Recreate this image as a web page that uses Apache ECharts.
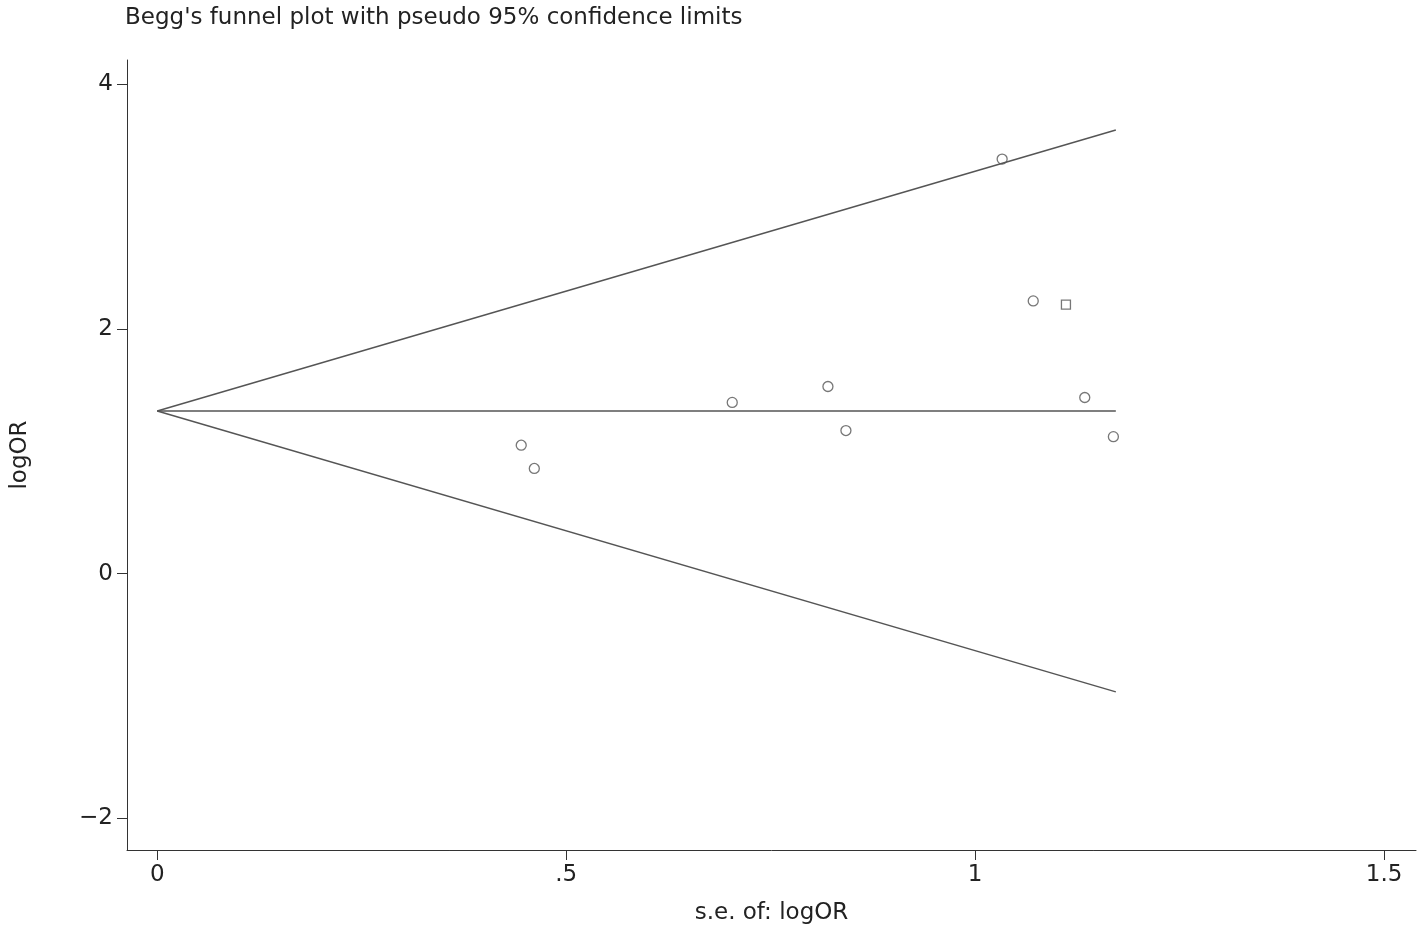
<!DOCTYPE html>
<html><head><meta charset="utf-8">
<script src="https://cdn.jsdelivr.net/npm/echarts@6/dist/echarts.min.js"></script>
<style>html,body{margin:0;background:#fff}#c{width:1418px;height:933px}</style>
</head><body><div id="c"></div>
<script>
// studies: standard error vs logOR
const seCircles = [1.033, 1.071, 1.134, 1.169, 0.820, 0.842, 0.703, 0.445, 0.461];
const logOrCircles = [3.39, 2.23, 1.44, 1.12, 1.53, 1.17, 1.40, 1.05, 0.86];
const seSquares = [1.111];
const logOrSquares = [2.20];
const pooled = 1.33;
const seMax = 1.172;
const xTicks = [0, 0.5, 1, 1.5];
const yTicks = [-2, 0, 2, 4];

const txt = '#222';
const chart = echarts.init(document.getElementById('c'));
const lineStyle = { color: '#555', width: 1.5 };
const lineSeries = (pts) => ({ type: 'line', data: pts, symbol: 'none', lineStyle, silent: true });

chart.setOption({
  animation: false,
  title: { text: "Begg's funnel plot with pseudo 95% confidence limits", left: 120, top: 2,
    textStyle: { fontFamily: 'DejaVu Sans', fontSize: 23, fontWeight: 'normal', color: txt } },
  grid: { left: 127, right: 2, top: 60, bottom: 83 },
  xAxis: {
    type: 'value', min: -0.037, max: 1.539,
    name: 's.e. of: logOR', nameLocation: 'middle', nameGap: 52,
    nameTextStyle: { fontFamily: 'DejaVu Sans', fontSize: 23, color: txt },
    axisLine: { onZero: false, lineStyle: { color: '#333' } },
    axisTick: { show: true, length: 10, customValues: xTicks, lineStyle: { color: '#333' } },
    axisLabel: { customValues: xTicks, fontFamily: 'DejaVu Sans', fontSize: 23, color: txt, margin: 14,
      formatter: v => v === 0 ? '0' : (v === 0.5 ? '.5' : String(v)) },
    splitLine: { show: false }
  },
  yAxis: {
    type: 'value', min: -2.26, max: 4.2,
    name: 'logOR', nameLocation: 'middle', nameGap: 95, nameRotate: 90,
    nameTextStyle: { fontFamily: 'DejaVu Sans', fontSize: 23, color: txt },
    axisLine: { show: true, onZero: false, lineStyle: { color: '#333' } },
    axisTick: { show: true, length: 10, customValues: yTicks, lineStyle: { color: '#333' } },
    axisLabel: { customValues: yTicks, fontFamily: 'DejaVu Sans', fontSize: 23, color: txt, margin: 14,
      formatter: v => v < 0 ? '\u2212' + Math.abs(v) : String(v) },
    splitLine: { show: false }
  },
  series: [
    lineSeries([[0, pooled], [seMax, pooled + 1.96 * seMax]]),
    lineSeries([[0, pooled], [seMax, pooled - 1.96 * seMax]]),
    lineSeries([[0, pooled], [seMax, pooled]]),
    { type: 'scatter', data: seCircles.map((s, i) => [s, logOrCircles[i]]), symbol: 'circle', symbolSize: 10,
      itemStyle: { color: '#fff', borderColor: '#555', borderWidth: 1.3 } },
    { type: 'scatter', data: seSquares.map((s, i) => [s, logOrSquares[i]]), symbol: 'rect', symbolSize: 9,
      itemStyle: { color: '#fff', borderColor: '#555', borderWidth: 1.3 } }
  ]
});
</script></body></html>
